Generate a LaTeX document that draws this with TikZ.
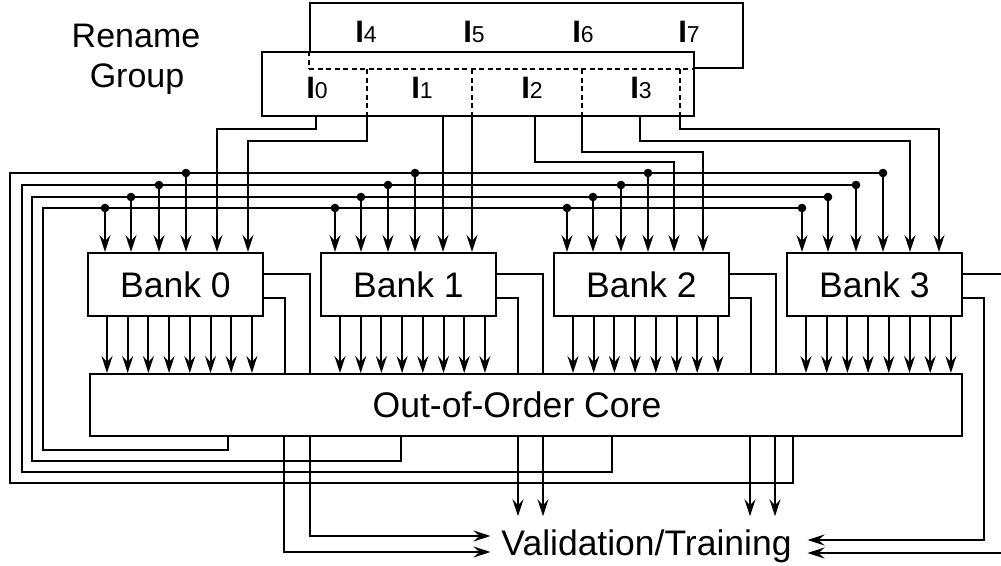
\documentclass[tikz,border=0pt]{standalone}
\usepackage{fontspec}
\setmainfont{Liberation Sans}
\usetikzlibrary{arrows.meta,calc}
\newcommand\Ilab[1]{{\fontsize{31}{31}\selectfont\bfseries I}{\fontsize{23}{23}\selectfont #1}}
\begin{document}
\begin{tikzpicture}[x=1pt,y=-1pt,line width=2pt,
  conn/.style={line width=2pt},
  arr/.style={line width=2pt,-{Stealth[length=17pt,width=11pt,inset=6pt]}},
  dsh/.style={line width=2.2pt,dash pattern=on 5pt off 3.5pt},
  bankbox/.style={draw,fill=white,minimum width=175pt,minimum height=63pt,inner sep=0pt,font=\fontsize{35.5}{40}\selectfont},
  corebox/.style={draw,fill=white,minimum width=872pt,minimum height=62pt,inner sep=0pt,font=\fontsize{35.6}{40}\selectfont},
  rgbox/.style={draw,minimum width=433pt,minimum height=65pt,inner sep=0pt},
  lab/.style={anchor=base,inner sep=0pt},
  txt/.style={anchor=base,inner sep=0pt,font=\fontsize{34}{40}\selectfont},
  valn/.style={anchor=base,inner xsep=10pt,inner ysep=12pt,font=\fontsize{35.5}{40}\selectfont},
  dot/.style={circle,fill,inner sep=0pt,minimum size=8.6pt}]
\useasboundingbox (0,0) rectangle (1001,565);
\clip (0,0) rectangle (1001,565);

% Rename group
\node[txt] (rn1) at (136,47) {Rename};
\node[txt] (rn2) at (137,87) {Group};
\node[rgbox] (rgb) at (526.5,35.5) {};
\node[rgbox,fill=white,minimum width=432pt,minimum height=64pt] (rgf) at (478,84) {};
\draw[dsh] (rgb.west |- rgf.north) -- (rgb.south west);
\draw[dsh] (rgb.south west) -- (rgb.south -| rgf.east);
\node[lab] (l4) at (366,42) {\Ilab{4}};
\node[lab] (l5) at (474,42) {\Ilab{5}};
\node[lab] (l6) at (583,42) {\Ilab{6}};
\node[lab] (l7) at (689,42) {\Ilab{7}};
\node[lab] (l0) at (317,98) {\Ilab{0}};
\node[lab] (l1) at (422,98) {\Ilab{1}};
\node[lab] (l2) at (532,98) {\Ilab{2}};
\node[lab] (l3) at (641,98) {\Ilab{3}};

% banks and core
\node[bankbox] (b0) at (175.5,284.5) {Bank 0};
\node[bankbox] (b1) at (408.5,284.5) {Bank 1};
\node[bankbox] (b2) at (641.5,284.5) {Bank 2};
\node[bankbox] (b3) at (874.5,284.5) {Bank 3};
\node[corebox] (core) at (526,405) {Out-of-Order Core\rule{18pt}{0pt}};
\node[valn] (val) at (646.5,555) {Validation/Training};

% dashed paths through the front rename box
\foreach \x in {367,472,582,680}
  \draw[dsh] (rgb.south -| \x,0) -- (rgf.south -| \x,0);

% rename group outputs to banks
\draw[arr] (rgf.south -| 316,0) |- (217,129) -- (b0.north -| 217,0);
\draw[arr] (rgf.south -| 367,0) |- (248,141) -- (b0.north -| 248,0);
\draw[arr] (rgf.south -| 443,0) -- (b1.north -| 443,0);
\draw[arr] (rgf.south -| 472,0) -- (b1.north -| 472,0);
\draw[arr] (rgf.south -| 535,0) |- (674,162) -- (b2.north -| 674,0);
\draw[arr] (rgf.south -| 582,0) |- (703,152) -- (b2.north -| 703,0);
\draw[arr] (rgf.south -| 640,0) |- (910,141) -- (b3.north -| 910,0);
\draw[arr] (rgf.south -| 680,0) |- (939,129) -- (b3.north -| 939,0);

% core outputs fed back on the buses
\draw[conn] (core.south -| 228,0) |- (43,450) |- (802,208);
\draw[conn] (core.south -| 401,0) |- (32,461) |- (828,197);
\draw[conn] (core.south -| 612,0) |- (22,472) |- (856,185);
\draw[conn] (core.south -| 793,0) |- (10,483) |- (883,173);

\foreach \y/\xa/\xb/\xc/\xd in {208/105/335/567/802,197/131/361/593/828,185/159/388/621/856,173/186/415/648/883}{
  \foreach \x/\b in {\xa/b0,\xb/b1,\xc/b2,\xd/b3}{
    \node[dot] at (\x,\y) {};
    \draw[arr] (\x,\y) -- (\b.north -| \x,0);
  }
}

% bank outputs into the core
\foreach \b/\L in {b0/88,b1/321,b2/554,b3/787}{
  \foreach \k in {0,...,7}{
    \pgfmathsetmacro\xx{\L+19+20.7*\k}
    \draw[arr] (\b.south -| \xx,0) -- (core.north -| \xx,0);
  }
}

% side outputs of banks 0-2 into the core
\foreach \b/\L in {b0/88,b1/321,b2/554}{
  \pgfmathsetmacro\xu{\L+222}
  \pgfmathsetmacro\xl{\L+197}
  \draw[conn] (\b.east |- 0,274) -| (core.north -| \xu,0);
  \draw[conn] (\b.east |- 0,298) -| (core.north -| \xl,0);
}

% core to validation/training
\draw[arr] (core.south -| 310,0) |- (val.west |- 0,536);
\draw[arr] (core.south -| 284,0) |- (val.west |- 0,552);
\foreach \x in {518,543,750,775}
  \draw[arr] (core.south -| \x,0) -- (val.north -| \x,0);

% bank 3 directly to validation/training
\draw[arr] (b3.east |- 0,298) -| (984,540) -- ($(val.east |- 0,540)+(5,0)$);
\draw[arr] (b3.east |- 0,274) -| (1009,553) -- ($(val.east |- 0,553)+(5,0)$);
\end{tikzpicture}
\end{document}
